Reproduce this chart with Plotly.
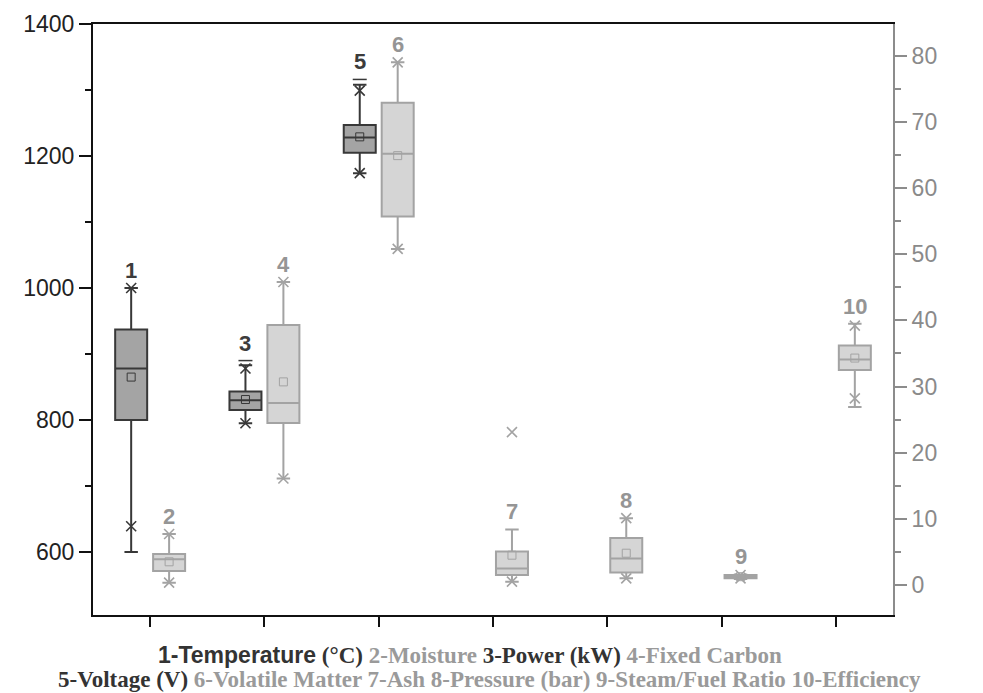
import plotly.graph_objects as go

# ---------------- data ----------------
box_labels = ["1", "2", "3", "4", "5", "6", "7", "8", "9", "10"]
groups     = [1, 1, 2, 2, 3, 3, 4, 5, 6, 7]
sides      = ["L", "R", "L", "R", "L", "R", "R", "R", "R", "R"]
q1_vals     = [800, 2.1, 815, 24.5, 1205, 55.7, 1.5, 1.9, 1.0, 32.5]
median_vals = [878, 3.9, 830, 27.5, 1228, 65.2, 2.5, 4.0, 1.25, 34.1]
q3_vals     = [937, 4.7, 843, 39.3, 1247, 72.9, 5.05, 7.1, 1.5, 36.2]
lower_vals  = [600, 0.35, 795, 16.1, 1174, 50.8, 0.5, 1.0, 0.9, 26.9]
upper_vals  = [1000, 7.7, 883, 45.8, 1308, 79.0, 8.4, 10.1, 1.6, 39.5]
mean_vals   = [865, 3.5, 831, 30.7, 1229, 64.9, 4.5, 4.8, 1.25, 34.3]
# percentile (x) markers: [upper, lower]
pct_hi = [1000, 7.7, 878, 45.8, 1299, 79.0, 23.1, 10.1, 1.5, 39.2]
pct_lo = [639, 0.35, 795, 16.1, 1174, 50.8, 0.5, 1.0, 1.0, 28.2]
# max dashes (only where distinct)
max_dash = [None, None, 890, None, 1316, None, None, None, None, None]
label_y  = [1000, 7.7, 890, 45.8, 1316, 79.0, 8.4, 10.1, 1.7, 39.5]

left_ticks = [600, 800, 1000, 1200, 1400]
right_ticks = [0, 10, 20, 30, 40, 50, 60, 70, 80]

# ---------------- styles ----------------
DARK_FILL, DARK_LINE, DARK_TXT = "#a4a4a4", "#383838", "#3c3c3c"
LIGHT_FILL, LIGHT_LINE, LIGHT_TXT = "#d5d5d5", "#a3a3a3", "#959595"
OFFSET = 0.166
BOXW = 0.28

fig = go.Figure()
annotations = []
for i, lab in enumerate(box_labels):
    left = sides[i] == "L"
    xpos = groups[i] + (-OFFSET if left else OFFSET)
    fill = DARK_FILL if left else LIGHT_FILL
    line = DARK_LINE if left else LIGHT_LINE
    tcol = DARK_TXT if left else LIGHT_TXT
    yax = "y" if left else "y2"
    fig.add_trace(go.Box(
        x=[xpos], q1=[q1_vals[i]], median=[median_vals[i]], q3=[q3_vals[i]],
        lowerfence=[lower_vals[i]], upperfence=[upper_vals[i]],
        width=BOXW, whiskerwidth=0.42, boxpoints=False,
        fillcolor=fill, line=dict(color=line, width=2),
        yaxis=yax, showlegend=False, hoverinfo="skip"))
    # mean square
    fig.add_trace(go.Scatter(
        x=[xpos], y=[mean_vals[i]], mode="markers", yaxis=yax,
        marker=dict(symbol="square-open", size=8, color=line, line=dict(width=1)),
        showlegend=False, hoverinfo="skip"))
    # percentile x markers
    fig.add_trace(go.Scatter(
        x=[xpos, xpos], y=[pct_hi[i], pct_lo[i]], mode="markers", yaxis=yax,
        marker=dict(symbol="x-thin-open", size=10, color=line, line=dict(width=1.6, color=line)),
        showlegend=False, hoverinfo="skip"))
    if max_dash[i] is not None:
        fig.add_trace(go.Scatter(
            x=[xpos], y=[max_dash[i]], mode="markers", yaxis=yax,
            marker=dict(symbol="line-ew-open", size=10, color=line, line=dict(width=1.5, color=line)),
            showlegend=False, hoverinfo="skip"))
    annotations.append(dict(
        x=xpos, y=label_y[i], xref="x", yref=yax, text="<b>%s</b>" % lab,
        showarrow=False, yanchor="bottom", yshift=3,
        font=dict(family="Liberation Sans, Arial", size=22, color=tcol)))

SERIF = "font-family:Liberation Serif"
line1 = ("<b>1-Temperature</b><span style='%s'><b> (°C) </b></span>"
         "<span style='%s;color:#9a9a9a'><b>2-Moisture </b></span>"
         "<span style='%s'><b>3-Power (kW) </b></span>"
         "<span style='%s;color:#9a9a9a'><b>4-Fixed Carbon</b></span>") % (SERIF, SERIF, SERIF, SERIF)
line2 = ("<span style='%s'><b>5-Voltage (V) </b></span>"
         "<span style='%s;color:#9a9a9a'><b>6-Volatile Matter 7-Ash 8-Pressure (bar) 9-Steam/Fuel Ratio 10-Efficiency</b></span>") % (SERIF, SERIF)
annotations.append(dict(x=0.471, xref="x domain", y=-0.0675, yref="paper", text=line1,
                        showarrow=False, yanchor="middle", xanchor="center",
                        font=dict(family="Liberation Sans, Arial", size=23, color="#333333")))
annotations.append(dict(x=0.496, xref="x domain", y=-0.1095, yref="paper", text=line2,
                        showarrow=False, yanchor="middle", xanchor="center",
                        font=dict(family="Liberation Serif", size=23, color="#333333")))

fig.update_layout(
    width=983, height=693,
    margin=dict(l=93, r=90, t=24, b=78),
    paper_bgcolor="white", plot_bgcolor="white",
    annotations=annotations,
    xaxis=dict(range=[0.5, 7.5], tickvals=[1, 2, 3, 4, 5, 6, 7], ticktext=[""] * 7,
               ticks="outside", ticklen=10, tickwidth=2, tickcolor="#111",
               showline=True, linecolor="#111", linewidth=2, mirror=True,
               showgrid=False, zeroline=False),
    yaxis=dict(range=[504.5, 1400], tickvals=left_ticks, ticks="outside", ticklen=12,
               tickwidth=1.5, tickcolor="#111", showline=True, linecolor="#111", linewidth=2,
               showgrid=False, zeroline=False,
               tickfont=dict(family="Liberation Sans, Arial", size=23, color="#222"),
               minor=dict(ticks="outside", ticklen=6, tickwidth=1.5, tickcolor="#111", dtick=100, tick0=500)),
    yaxis2=dict(range=[-4.54, 84.8], tickvals=right_ticks, overlaying="y", side="right",
                ticks="outside", ticklen=12, tickwidth=1.5, tickcolor="#8c8c8c",
                showline=True, linecolor="#8c8c8c", linewidth=2, showgrid=False, zeroline=False,
                tickfont=dict(family="Liberation Sans, Arial", size=23, color="#8a8a8a"),
                minor=dict(ticks="outside", ticklen=6, tickwidth=1.5, tickcolor="#8c8c8c", dtick=5, tick0=0)),
)

fig.write_html("out.html")
